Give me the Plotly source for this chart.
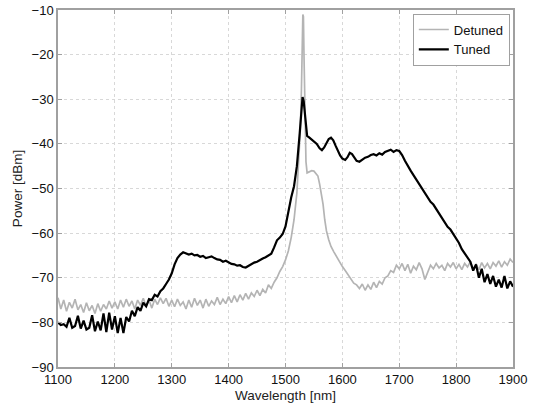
import plotly.graph_objects as go

# ---- Detuned (gray) spectrum ----
detuned_wl = [1100,1105,1110,1115,1120,1125,1130,1135,1140,1145,1150,1155,1160,1165,1170,1175,1180,1185,1190,1195,
              1200,1205,1210,1215,1220,1225,1230,1235,1240,1245,1250,1255,1260,1265,1270,1275,1280,1285,1290,1295,
              1300,1305,1310,1315,1320,1325,1330,1335,1340,1345,1350,1355,1360,1365,1370,1375,1380,1385,1390,1395,
              1400,1405,1410,1415,1420,1425,1430,1435,1440,1445,1450,1455,1460,1465,1470,1475,1480,1485,1490,1495,
              1500,1505,1510,1515,1520,1523,1526,1528,1529.5,1530.5,1531.5,1532.5,1534,1536,1538,1542,1546,1550,1554,1557,
              1560,1563,1566,1569,1572,1576,1580,1585,1590,1595,1600,1605,1610,1615,1620,1625,1630,1635,1640,1645,
              1650,1655,1660,1665,1670,1675,1680,1685,1690,1695,1700,1705,1710,1715,1720,1725,1730,1735,1740,1745,
              1750,1755,1760,1765,1770,1775,1780,1785,1790,1795,1800,1805,1810,1815,1820,1825,1830,1835,1840,1845,
              1850,1855,1860,1865,1870,1875,1880,1885,1890,1895,1900]
detuned_pw = [-74.5,-77,-75,-77.5,-75.5,-76.8,-74.8,-77.2,-76,-77.8,-75.6,-77.4,-76.2,-78,-75.8,-77.5,-76,-77,-75.2,-76.8,
              -75.4,-77,-75,-76.6,-74.8,-76.4,-75.2,-77,-75,-76.2,-74.6,-76.5,-75,-76.8,-74.8,-76,-74.5,-75.8,-74.6,-76.4,
              -75,-76.5,-74.8,-76.2,-75.4,-77,-75,-76.6,-74.6,-76.2,-75,-76.8,-74.8,-76.4,-75.2,-76,-74.4,-76,-74.8,-75.8,
              -74.2,-75.6,-74,-75.4,-73.8,-75,-73.5,-74.8,-73.4,-74.2,-72.8,-74,-72.6,-73.4,-71.6,-72.4,-71,-70,-68.6,-67.5,
              -66,-64,-61,-57,-51,-45,-37,-28,-18,-11,-11.5,-20,-33,-44,-46.5,-46.2,-46,-46.1,-46.6,-47.2,
              -49,-51,-53.5,-57,-59.5,-61.5,-63,-64.2,-65.4,-66.5,-67.5,-68.4,-69.4,-70.2,-71.2,-71.6,-72.4,-71.4,-72.8,-71.6,
              -72.6,-71,-72.2,-70.8,-71.4,-70,-69.6,-68.4,-68.8,-67.2,-68,-66.8,-68.4,-67,-69,-67.4,-68.2,-66.6,-68,-70.4,
              -68.6,-67.2,-68,-66.8,-67.8,-67.2,-68.4,-66.8,-67.6,-66.6,-68,-67,-68.2,-66.8,-67.6,-66.4,-68,-67,-68.2,-66.6,
              -67.8,-66.8,-68,-66.6,-67.4,-66.2,-67.6,-66.4,-67.2,-65.8,-66.6]

# ---- Tuned (black) spectrum ----
tuned_wl = [1100,1105,1110,1115,1120,1125,1130,1135,1140,1145,1150,1155,1160,1165,1170,1175,1180,1185,1190,1195,
            1200,1205,1210,1215,1220,1225,1230,1235,1240,1245,1250,1255,1260,1265,1270,1275,1280,1285,1290,1295,
            1300,1305,1310,1315,1320,1325,1330,1335,1340,1345,1350,1355,1360,1365,1370,1375,1380,1385,1390,1395,
            1400,1405,1410,1415,1420,1425,1430,1435,1440,1445,1450,1455,1460,1465,1470,1475,1480,1485,1490,1495,
            1500,1505,1510,1515,1520,1525,1528,1530,1532,1535,1538,1542,1546,1550,1555,1560,1564,1568,1572,1576,
            1580,1584,1588,1592,1596,1600,1605,1609,1613,1617,1621,1625,1630,1635,1640,1645,1650,1655,1660,1665,
            1670,1675,1680,1685,1690,1695,1700,1705,1710,1715,1720,1725,1730,1735,1740,1745,1750,1755,1760,1765,
            1770,1775,1780,1785,1790,1795,1800,1805,1810,1815,1820,1825,1830,1835,1840,1845,1850,1855,1860,1865,
            1870,1875,1880,1885,1890,1895,1900]
tuned_pw = [-80,-80.6,-80.4,-81,-79,-81.2,-80.8,-78.5,-81.4,-79.6,-81.6,-81.2,-78.4,-82,-79.8,-81.8,-78,-82.2,-77.8,-81.6,
            -78.6,-82.4,-79,-82.4,-78.8,-79.8,-77.4,-78.6,-76.6,-77.4,-75.6,-76.4,-74.8,-75,-73.8,-74.2,-73,-72.4,-71.4,-70.4,
            -69,-67,-65.6,-64.8,-64.3,-64.5,-64.8,-64.6,-65,-64.9,-65.3,-65.1,-65.6,-65.4,-65.2,-65.6,-65.9,-66,-66.4,-66.2,
            -66.6,-66.9,-67,-67.3,-67.2,-67.6,-67.7,-67.3,-66.9,-66.6,-66.4,-66,-65.7,-65.4,-64.9,-64.6,-63.2,-61.6,-61,-60.2,
            -58.5,-55,-52,-49.5,-45,-37.6,-32.5,-29.5,-30.5,-35,-38.2,-38.6,-39,-39.4,-40,-41,-41.4,-40.8,-39.8,-38.9,
            -38.6,-39.2,-40.4,-41.6,-42.6,-43.3,-43.6,-43,-42,-42.3,-43.2,-43.8,-44,-43.6,-43.1,-42.9,-42.5,-42.3,-42.6,-42.1,
            -42.4,-41.8,-41.6,-41.3,-41.8,-41.4,-41.6,-42.5,-43.8,-45,-46,-47,-48,-49.2,-50,-51.2,-52,-53,-53.6,-54.6,
            -55.6,-56.4,-57.4,-58.6,-59.2,-60.2,-61.4,-62.2,-63.6,-64.6,-65.6,-66.4,-68.4,-67,-70,-68,-71,-69.2,-71.4,-69.6,
            -72,-70.4,-72.2,-69.6,-72.4,-70.8,-72]

x_ticks = [1100,1200,1300,1400,1500,1600,1700,1800,1900]
y_ticks = [-90,-80,-70,-60,-50,-40,-30,-20,-10]

font_family = "Liberation Sans, Arial, sans-serif"

fig = go.Figure()
fig.add_trace(go.Scatter(x=detuned_wl, y=detuned_pw, mode="lines", name="Detuned",
                         line=dict(color="#b4b4b4", width=1.7)))
fig.add_trace(go.Scatter(x=tuned_wl, y=tuned_pw, mode="lines", name="Tuned",
                         line=dict(color="#000000", width=2.2)))

axis_common = dict(showline=True, linecolor="#a0a0a0", linewidth=1.5, mirror="ticks",
                   ticks="inside", ticklen=4, tickcolor="#a0a0a0",
                   showgrid=True, gridcolor="#d8d8d8", griddash="dot", gridwidth=1,
                   zeroline=False, automargin=False,
                   tickfont=dict(family=font_family, size=13, color="#111111"))

fig.update_layout(
    width=544, height=412,
    margin=dict(l=58, r=31, t=10, b=45),
    paper_bgcolor="white", plot_bgcolor="white",
    font=dict(family=font_family, size=13, color="#222222"),
    xaxis=dict(range=[1100, 1900], tickvals=x_ticks,
               title=dict(text="Wavelength [nm]", standoff=4, font=dict(size=13.5)),
               **axis_common),
    yaxis=dict(range=[-90, -10], tickvals=y_ticks,
               title=dict(text="Power [dBm]", standoff=6, font=dict(size=13.5)),
               **axis_common),
    legend=dict(x=0.993, y=0.99, xanchor="right", yanchor="top",
                bgcolor="white", bordercolor="#a0a0a0", borderwidth=1,
                font=dict(family=font_family, size=13, color="#111111"),
                tracegroupgap=0, itemwidth=30),
    showlegend=True,
)

# remove the page's default 8px body margin so the figure sits at the window origin
fig.write_html("out.html", config={"displayModeBar": False},
               post_script="document.body.style.margin='0';")
